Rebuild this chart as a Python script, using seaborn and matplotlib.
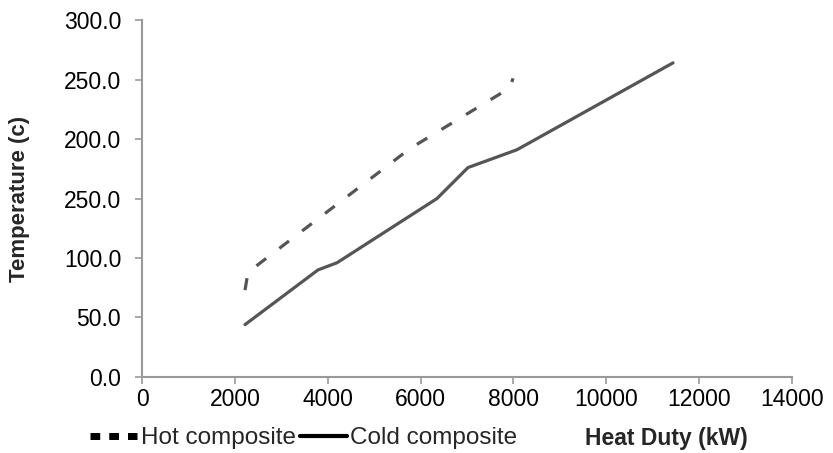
import pandas as pd
import matplotlib
matplotlib.use('Agg')
import matplotlib.pyplot as plt
from matplotlib.lines import Line2D
import seaborn as sns

# values
hot_duty = [2218, 2283, 5772, 7926, 7990]
hot_temp = [73, 88, 192, 243, 251]
cold_duty = [2218, 3791, 4200, 6354, 7021, 8077, 11437]
cold_temp = [44, 90, 96, 150, 176, 191, 264]

x_ticks = [0, 2000, 4000, 6000, 8000, 10000, 12000, 14000]
y_ticks = [0, 50, 100, 150, 200, 250, 300]
y_tick_labels = ['0.0', '50.0', '100.0', '250.0', '200.0', '250.0', '300.0']

hot = pd.DataFrame({'duty': hot_duty, 'temp': hot_temp})
cold = pd.DataFrame({'duty': cold_duty, 'temp': cold_temp})

sns.set_style('white')
plt.rcParams['font.family'] = ['Liberation Sans', 'DejaVu Sans']

line_col = '#555555'
axis_col = '#999999'

fig = plt.figure(figsize=(8.33, 4.53), dpi=100)
ax = fig.add_axes([0.1705, 0.1678, 0.7803, 0.788])

sns.lineplot(data=hot, x='duty', y='temp', ax=ax, color=line_col, linewidth=2.3,
             sort=False, estimator=None)
ax.lines[-1].set_dashes((3.8, 5.2))
sns.lineplot(data=cold, x='duty', y='temp', ax=ax, color=line_col, linewidth=2.3,
             sort=False, estimator=None)

ax.set_xlim(0, 14000)
ax.set_ylim(0, 300)
ax.set_xticks(x_ticks)
ax.set_xticklabels([str(v) for v in x_ticks])
ax.set_yticks(y_ticks)
ax.set_yticklabels(y_tick_labels)

for side in ['top', 'right']:
    ax.spines[side].set_visible(False)
for side in ['left', 'bottom']:
    ax.spines[side].set_color(axis_col)
    ax.spines[side].set_linewidth(1.5)
ax.tick_params(axis='both', which='major', direction='out', length=5, width=1.2,
               color=axis_col, labelsize=16.5, labelcolor='black',
               left=True, bottom=True)
ax.tick_params(axis='y', pad=10)
ax.tick_params(axis='x', pad=3)

ax.set_xlabel('Heat Duty (kW)', fontsize=16.5, fontweight='bold')
ax.xaxis.set_label_coords(0.806, -0.14)
ax.set_ylabel('Temperature (c)', fontsize=16, fontweight='bold')
ax.yaxis.set_label_coords(-0.172, 0.5)

handles = [Line2D([], [], color='black', linewidth=5, dashes=(1.4, 1.3)),
           Line2D([], [], color='black', linewidth=3)]
fig.legend(handles, ['Hot composite', 'Cold composite'], loc='center left',
           bbox_to_anchor=(90 / 833, 1 - 438 / 453), ncol=2, frameon=False,
           fontsize=17.5, handlelength=1.95, handletextpad=0.13,
           columnspacing=0.17, borderaxespad=0, borderpad=0)

fig.savefig('out.png', dpi=100)
